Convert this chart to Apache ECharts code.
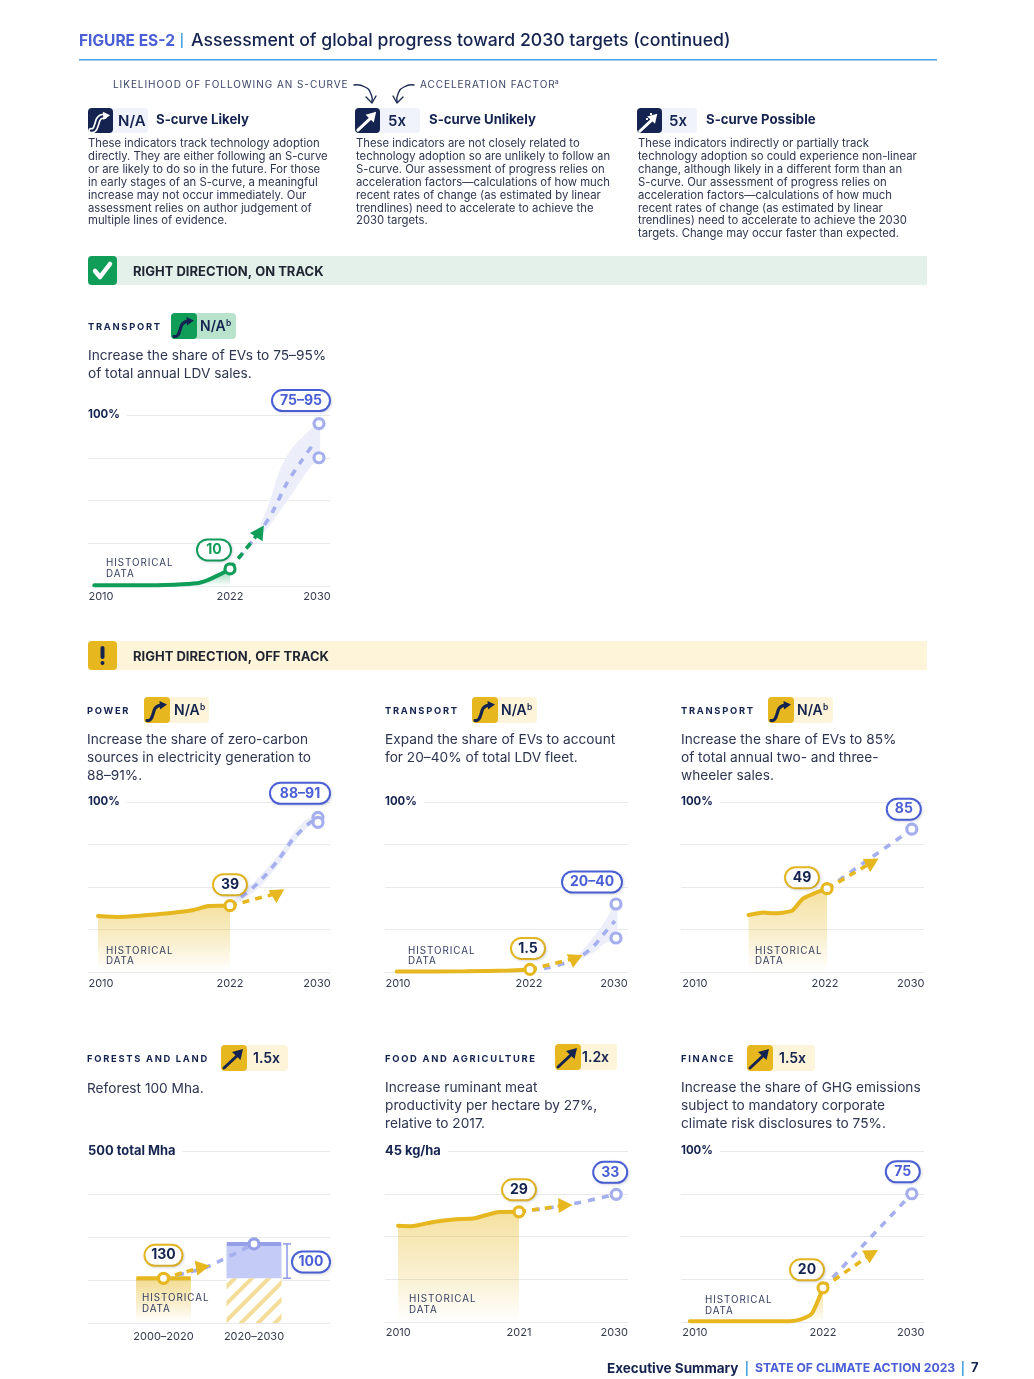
<!DOCTYPE html>
<html><head><meta charset="utf-8"><style>html,body{margin:0;padding:0;background:#fff}#c{width:1034px;height:1379px}</style>
<script src="https://cdn.jsdelivr.net/npm/echarts@6/dist/echarts.min.js"></script></head>
<body><div id="c"></div>
<script>
// ---------- data ----------
const evSalesHist=[[2009.8,0.4],[2014,0.4],[2017,0.8],[2019,1.6],[2020,3.5],[2021,6.5],[2022,10]];
const evSalesAction=[[2022,10],[2024.7,32]];
const evSalesTarget=[[2022,10],[2024.7,32],[2025.8,43],[2027.1,60],[2028.4,73],[2029.6,84]];
const evSalesLow=[[2024.7,30],[2025.5,35],[2026.5,44],[2027.5,53],[2028.5,63],[2029.3,70],[2030,75]];
const evSalesHigh=[[2024.7,35],[2025.5,48],[2026.5,68],[2027.5,80],[2028.5,87],[2029.3,92],[2030,95]];

const powerHist=[[2010,33],[2012,32.4],[2014.5,33.5],[2017,35],[2018.7,36.5],[2020,38.8],[2021,39],[2022,39]];
const powerAction=[[2022,39],[2026.4,46.5]];
const powerTarget=[[2022,39],[2024.5,52],[2026.4,66],[2027.7,78],[2029.3,88],[2030,89.5]];
const powerLow=[[2022.5,40],[2024.5,49],[2026.4,63],[2027.7,75],[2029,85],[2030,88]];
const powerHigh=[[2022.5,43],[2024.5,55],[2026.4,69],[2027.7,81],[2029,90],[2030,91]];

const evFleetHist=[[2009.6,0.3],[2016,0.4],[2020,0.9],[2022,1.5]];
const evFleetAction=[[2022,1.5],[2026.3,8.2]];
const evFleetTarget=[[2022,1.5],[2023.7,2.5],[2026.4,8],[2027.9,15],[2028.8,22],[2029.9,30]];
const evFleetLow=[[2026.4,7],[2027.2,9],[2028.2,13],[2029,17],[2030,20]];
const evFleetHigh=[[2026.4,9],[2027.2,15],[2028.2,23],[2029,30],[2030,40]];

const twoWheelHist=[[2014.6,33.5],[2016,35],[2016.9,34.5],[2018.7,36],[2019.7,43],[2020.9,46.5],[2022,49]];
const twoWheelAction=[[2022,49],[2026.3,64.7]];
const twoWheelTarget=[[2022,49],[2030,84]];

const meatHist=[[2009.8,25.3],[2011,25.2],[2013.2,26.4],[2014.9,27],[2016.9,27.3],[2019,28.9],[2021,29]];
const meatAction=[[2021,29],[2025.3,30.7]];
const meatTarget=[[2021,29],[2025.3,30.7],[2030,33.6]];

const climateRiskHist=[[2010,0.5],[2019,0.5],[2020,1.5],[2021,5],[2022,20]];
const climateRiskAction=[[2022,20],[2026.4,40]];
const climateRiskTarget=[[2022,20],[2030,75]];

const forestPeriods=['2000–2020','2020–2030'];
const forestHistorical=[130,130];
const forestAdded=[null,100];
const forestAction=[[0,130],[0.436,163]];

const ticksStd=[2010,2022,2030];
const ticksFood=[2010,2021,2030];

// ---------- palette / fonts ----------
const NAVY='#14234f',BODY='#2d3550',YEL='#e6b71e',GRN='#0f9d58',BLUE='#4a5fd6',PERI='#a5afee',BAND='#eceef9',GRID='#e8e9ec';
const F='Inter, "Noto Sans", sans-serif',W='Inter, "DejaVu Sans", sans-serif';
// tracked capitals: the W family stack gets letter-spacing when drawn
const _ft=CanvasRenderingContext2D.prototype.fillText;
CanvasRenderingContext2D.prototype.fillText=function(t,x,y,m){
  const f=this.font;
  this.letterSpacing=/DejaVu/.test(f)?(/bold|700/.test(f)?'1.7px':'.95px'):'0px';
  return m===undefined?_ft.call(this,t,x,y):_ft.call(this,t,x,y,m);
};

// ---------- chart layouts ----------
const charts=[
 {g:[88,330,415,586],ref:2022,px:230,k:11.125,m:5,max:100,top:'100%',ticks:ticksStd,pad:[9,4,0],c:GRN,hist:evSalesHist,act:evSalesAction,tgt:evSalesTarget,low:evSalesLow,high:evSalesHigh,rot:-33,
  now:[2022,10],nowT:'10',nowO:[-16,-20],ends:[[2030,95],[2030,75]],endT:'75–95',endO:[-18,-24],endW:60},
 {g:[88,330,802,972],ref:2022,px:230,k:11,m:6,max:100,top:'100%',ticks:ticksStd,pad:[6,2,0],c:YEL,hist:powerHist,act:powerAction,tgt:powerTarget,low:powerLow,high:powerHigh,rot:-58,
  now:[2022,39],nowT:'39',nowO:[0,-22],ends:[[2030,91],[2030,88]],endT:'88–91',endO:[-18,-25],endW:62},
 {g:[385,628,802,972],ref:2022,px:530,k:10.75,m:6,max:100,top:'100%',ticks:ticksStd,pad:[-6,4,2],c:YEL,hist:evFleetHist,act:evFleetAction,tgt:evFleetTarget,low:evFleetLow,high:evFleetHigh,rot:-65,
  now:[2022,1.5],nowT:'1.5',nowO:[-2,-22],ends:[[2030,40],[2030,20]],endT:'20–40',endO:[-24,-23],endW:62},
 {g:[681,924,802,972],ref:2022,px:827,k:10.6,m:6,max:100,top:'100%',ticks:ticksStd,pad:[-10,2,4],c:YEL,hist:twoWheelHist,act:twoWheelAction,tgt:twoWheelTarget,rot:-60,
  now:[2022,49],nowT:'49',nowO:[-25,-12],ends:[[2030,84]],endT:'85',endO:[-8,-21],endW:36},
 {g:[385,628,1151,1322],ref:2021,px:519,k:10.8,m:5,max:45,top:'45 kg/ha',ticks:ticksFood,pad:[-4,4,0],c:YEL,hist:meatHist,act:meatAction,tgt:meatTarget,rot:-88,
  now:[2021,29],nowT:'29',nowO:[0,-23],ends:[[2030,33.6]],endT:'33',endO:[-6,-23],endW:36},
 {g:[681,924,1151,1322],ref:2022,px:823,k:11.1,m:5,max:100,top:'100%',ticks:ticksStd,pad:[10,2,0],c:YEL,hist:climateRiskHist,act:climateRiskAction,tgt:climateRiskTarget,rot:-60,
  now:[2022,20],nowT:'20',nowO:[-16,-19],ends:[[2030,75]],endT:'75',endO:[-9,-23],endW:36},
];

const grids=[],xAxes=[],yAxes=[],series=[];
function pill(text,off,w,border,fill){return {show:true,position:'inside',offset:[off[0],off[1]+1],formatter:text,width:w,height:19,lineHeight:19,align:'center',verticalAlign:'middle',
  fontFamily:F,fontSize:14,fontWeight:700,color:fill,backgroundColor:'#fff',borderColor:border,borderWidth:2,borderRadius:11,shadowColor:'rgba(60,70,120,.18)',shadowBlur:3,shadowOffsetX:1,shadowOffsetY:1};}
function addAxes(L,R,T,B,xmin,xmax,ymax,top,xLabel){
  const i=grids.length;
  grids.push({left:L,top:T,width:R-L,height:B-T,show:false});
  xAxes.push({gridIndex:i,type:'value',min:xmin,max:xmax,axisLine:{show:false},axisTick:{show:false},splitLine:{show:false},axisLabel:xLabel});
  yAxes.push({gridIndex:i,type:'value',min:0,max:ymax,interval:ymax/4,axisLine:{show:false},axisTick:{show:false},
    splitLine:{show:true,lineStyle:{color:GRID,width:1}},
    axisLabel:{inside:true,margin:0,customValues:[ymax],formatter:()=>top,fontFamily:F,fontSize:top==='100%'?11.4:12.9,fontWeight:700,color:NAVY,backgroundColor:'#fff',padding:[2,7,2,0],verticalAlign:'middle'}});
  return i;
}
const tickStyle={fontFamily:F,fontSize:11,color:'#333a4d'};
charts.forEach(c=>{
  const [L,R,T,B]=c.g,xmin=c.ref-(c.px-L)/c.k,xmax=c.ref+(R-c.px)/c.k;
  const side=v=>v>=0?[0,0,0,v]:[0,-v,0,0];
  const i=addAxes(L,R,T,B,xmin,xmax,c.max,c.top,Object.assign({customValues:c.ticks,margin:c.m,
    formatter:v=>v===c.ticks[0]?'{a|'+v+'}':v===c.ticks[2]?'{b|'+v+'}':'{m|'+v+'}',
    rich:{a:Object.assign({padding:side(c.pad[0])},tickStyle),b:Object.assign({padding:[0,c.pad[1],0,0]},tickStyle),m:Object.assign({padding:[0,c.pad[2],0,0]},tickStyle)}},tickStyle));
  const ax={xAxisIndex:i,yAxisIndex:i,silent:true,animation:false};
  if(c.low){
    const low=c.low,high=c.high;
    series.push(Object.assign({type:'custom',data:low,clip:false,z:2,encode:{x:0,y:1},
      renderItem:(p,api)=>{
        if(p.dataIndex!==0)return null;
        const pts=low.concat(high.slice().reverse()).map(d=>api.coord(d));
        return {type:'polygon',shape:{points:pts,smooth:.3},style:{fill:BAND}};
      }},ax));
  }
  series.push(Object.assign({type:'line',data:c.tgt,symbol:'none',smooth:c.tgt.length>2?.25:false,lineStyle:{color:PERI,width:3.6,type:[7,7]},clip:false,z:3},ax));
  const base=c.c===GRN?'15,157,88':'230,183,30';
  series.push(Object.assign({type:'line',data:c.hist,symbol:'none',smooth:.2,lineStyle:{color:c.c,width:4,cap:'round'},clip:false,z:4,
    areaStyle:{opacity:1,origin:'start',color:{type:'linear',x:0,y:0,x2:0,y2:1,colorStops:[{offset:0,color:'rgba('+base+',.42)'},{offset:.55,color:'rgba('+base+',.22)'},{offset:1,color:'rgba('+base+',0)'}]}}},ax));
  series.push(Object.assign({type:'line',data:c.act,symbol:'none',lineStyle:{color:c.c,width:3.6,type:[7,6]},clip:false,z:5},ax));
  series.push(Object.assign({type:'scatter',data:[c.act[c.act.length-1]],symbol:'triangle',symbolSize:[15,14],symbolRotate:c.rot,itemStyle:{color:c.c,opacity:1},clip:false,z:6},ax));
  const ring=(col)=>({color:'#fff',borderColor:col,borderWidth:3.2,opacity:1});
  const nowFill=c.c===GRN?GRN:NAVY;
  const pts=[{value:c.now,itemStyle:ring(c.c),label:pill(c.nowT,c.nowO,32,c.c,nowFill)}];
  c.ends.forEach((e,j)=>pts.push(Object.assign({value:e,itemStyle:ring(PERI)},j===0?{label:pill(c.endT,c.endO,c.endW-4,BLUE,BLUE)}:{})));
  series.push(Object.assign({type:'scatter',data:pts,symbol:'circle',symbolSize:10,clip:false,z:7},ax));
});

// forest chart: gridlines and overlays on a value grid, bars on a category grid of the same height
(function(){
  const L=88,R=330,T=1151,B=1323,k=90.5,x0=163.5,xmin=-(x0-L)/k,xmax=(R-x0)/k;
  const i=addAxes(L,R,T,B,xmin,xmax,500,'500 total Mha',{show:false});
  const j=grids.length;
  grids.push({left:x0-k/2,top:T,width:2*k,height:B-T,show:false});
  xAxes.push({gridIndex:j,type:'category',data:forestPeriods,axisLine:{show:false},axisTick:{show:false},axisLabel:Object.assign({margin:8},tickStyle)});
  yAxes.push({gridIndex:j,type:'value',min:0,max:500,show:false});
  const bx={xAxisIndex:j,yAxisIndex:j,silent:true,animation:false,barWidth:55,stack:'f'};
  const ax={xAxisIndex:i,yAxisIndex:i,silent:true,animation:false,clip:false};
  const yFade={type:'linear',x:0,y:0,x2:0,y2:1,colorStops:[{offset:0,color:'rgba(230,183,30,.5)'},{offset:1,color:'rgba(230,183,30,0)'}]};
  const hatch={symbol:'rect',symbolSize:1,dashArrayX:[1,0],dashArrayY:[4,8],rotation:-Math.PI/4,color:'#f3dd98',backgroundColor:'#fff'};
  series.push(Object.assign({type:'bar',data:[{value:forestHistorical[0],itemStyle:{color:yFade}},{value:forestHistorical[1],itemStyle:{color:'#fff',decal:hatch}}]},bx));
  series.push(Object.assign({type:'bar',data:forestAdded,itemStyle:{color:'#c3cbf6'}},bx));
  series.push(Object.assign({type:'line',data:[[-0.3,130],[0.3,130]],symbol:'none',lineStyle:{color:YEL,width:4},z:4},ax));
  series.push(Object.assign({type:'line',data:[[0.7,230],[1.3,230]],symbol:'none',lineStyle:{color:'#949fe8',width:4},z:4},ax));
  series.push(Object.assign({type:'line',data:[[0,130],[0.46,161],[1,230]],symbol:'none',smooth:.2,lineStyle:{color:PERI,width:3.6,type:[7,7]},z:5},ax));
  series.push(Object.assign({type:'line',data:forestAction,symbol:'none',lineStyle:{color:YEL,width:3.6,type:[7,5]},z:6},ax));
  series.push(Object.assign({type:'scatter',data:[forestAction[1]],symbol:'triangle',symbolSize:[15,14],symbolRotate:-80,itemStyle:{color:YEL,opacity:1},z:6},ax));
  series.push(Object.assign({type:'line',data:[[1.365,130],[1.365,230]],symbol:'rect',symbolSize:[8,1.5],showAllSymbol:true,itemStyle:{color:'#8c98e6'},lineStyle:{color:'#8c98e6',width:1.5},z:5},ax));
  series.push(Object.assign({type:'scatter',symbol:'circle',symbolSize:10,z:7,data:[
    {value:[0,130],itemStyle:{color:'#fff',borderColor:YEL,borderWidth:3.2,opacity:1},label:pill('130',[0,-24],36,YEL,NAVY)},
    {value:[1,230],itemStyle:{color:'#fff',borderColor:'#949fe8',borderWidth:3.2,opacity:1},label:pill('100',[57,17],36,BLUE,BLUE)}]},ax));
})();

// ---------- page furniture ----------
const gfx=[];
function T(text,x,y,size,weight,fill,fam,align){gfx.push({type:'text',silent:true,z:20,style:{text,x,y:y+1,fill:fill||BODY,font:(weight||400)+' '+size+'px '+(fam||F),textAlign:align||'left',textVerticalAlign:'middle'}});}
function P(lines,x,y,dy,size,weight,fill,fam){lines.forEach((l,i)=>T(l,x,y+i*dy,size,weight,fill,fam));}
function R(x,y,w,h,fill,r){gfx.push({type:'rect',silent:true,z:10,shape:{x,y,width:w,height:h,r:r||0},style:{fill}});}
function Pl(pts,stroke,lw,smooth,z){gfx.push({type:'polyline',silent:true,z:z||12,shape:{points:pts,smooth:smooth||0},style:{stroke,lineWidth:lw,fill:null,lineCap:'round',lineJoin:'round'}});}
function Pg(pts,fill,z){gfx.push({type:'polygon',silent:true,z:z||12,shape:{points:pts},style:{fill}});}
function off(x,y,a){return a.map(p=>[x+p[0],y+p[1]]);}
function sCurve(x,y,s,line,outline){
  const sc=a=>off(x,y,a.map(p=>[p[0]*s/26,p[1]*s/26]));
  const pts=sc([[3,23.5],[6.5,22.5],[9,17],[11,11.5],[14,9],[17,8.5]]);
  if(outline)Pl(pts,outline,5.5,.5);
  Pl(pts,line,outline?2.2:3.2,.5);
  Pg(sc([[15.5,4],[23,7.5],[16,12.5]]),outline||line);
}
function arrow(x,y,s,line){
  const sc=a=>off(x,y,a.map(p=>[p[0]*s/26,p[1]*s/26]));
  Pl(sc([[3,23],[18,9]]),line,3);
  Pg(sc([[22,4],[19.5,15],[11,7]]),line);
}
// title
T('FIGURE ES-2',79,40,15.5,700,BLUE);
R(181,33,1.6,15,'#4aa3e0');
T('Assessment of global progress toward 2030 targets (continued)',191,40,17.65,500,NAVY);
R(79,59,858,1.5,'#4aa3e0');
// legend
T('LIKELIHOOD OF FOLLOWING AN S-CURVE',113,84,10,400,'#3a4466',W);
T('ACCELERATION FACTOR',420,84,10,400,'#3a4466',W);
T('a',555,81.5,6.5,400,'#3a4466');
Pl([[354,85],[365,87],[371,94],[372,102]],'#1c2b56',1.4,.6);
Pl([[366,97],[372,103],[376,96]],'#1c2b56',1.4);
Pl([[414,85],[404,87],[398,94],[397,102]],'#1c2b56',1.4,.6);
Pl([[393,96],[397,103],[403,97]],'#1c2b56',1.4);
R(88,108,60,25,'#f1f3fc',4);R(88,108,25,25,NAVY,4);
sCurve(88,108,25,NAVY,'#fff');
T('N/A',118,120,15,600,NAVY);T('S-curve Likely',156,119,13.2,700,NAVY);
R(355,108,65,25,'#f1f3fc',4);R(355,108,25,25,NAVY,4);arrow(355,108,25,'#fff');
T('5x',388,120,15,600,NAVY);T('S-curve Unlikely',429,119,13.2,700,NAVY);
R(637,108,60,25,'#f1f3fc',4);R(637,108,25,25,NAVY,4);arrow(637,110,24,'#fff');
[[650,113],[654,116],[646,118],[650,120]].forEach(p=>R(p[0],p[1],2,2,'#fff'));
T('5x',669,120,15,600,NAVY);T('S-curve Possible',706,119,13.2,700,NAVY);
const para1=['These indicators track technology adoption','directly. They are either following an S-curve','or are likely to do so in the future. For those','in early stages of an S-curve, a meaningful','increase may not occur immediately. Our','assessment relies on author judgement of','multiple lines of evidence.'];
const para2=['These indicators are not closely related to','technology adoption so are unlikely to follow an','S-curve. Our assessment of progress relies on','acceleration factors—calculations of how much','recent rates of change (as estimated by linear','trendlines) need to accelerate to achieve the','2030 targets.'];
const para3=['These indicators indirectly or partially track','technology adoption so could experience non-linear','change, although likely in a different form than an','S-curve. Our assessment of progress relies on','acceleration factors—calculations of how much','recent rates of change (as estimated by linear','trendlines) need to accelerate to achieve the 2030','targets. Change may occur faster than expected.'];
P(para1,88,143,12.83,11.3);P(para2,356,143,12.83,11.3);P(para3,638,143,12.83,11.3);
// section bands
R(88,256,839,29,'#e4f1ea');R(88,256,29,29,GRN,4);
Pl([[95,271],[100,277],[110,264]],'#fff',4.5);
T('RIGHT DIRECTION, ON TRACK',133,271,13,700,'#1f2430');
R(88,641,839,29,'#fdf4d9');R(88,641,29,29,YEL,4);
R(100.5,646,4,13,NAVY,2);R(100.5,661,4,4,NAVY,2);
T('RIGHT DIRECTION, OFF TRACK',133,656,13,700,'#1f2430');
// chart headers
function badge(label,lx,ly,ix,iy,pEnd,kind,col,bg,txt,tx,sup,lineCol){
  T(label,lx,ly,9.4,700,NAVY,W);
  R(ix,iy,pEnd-ix,26,bg,4);R(ix,iy,26,26,col,4);
  if(kind==='s')sCurve(ix,iy,26,lineCol);else arrow(ix,iy,26,lineCol);
  T(txt,tx,iy+12.5,14,600,NAVY);
  if(sup)T('b',tx+26,iy+9,8.5,600,NAVY);
}
badge('TRANSPORT',88,326.5,171,313,236,'s',GRN,'#b9e3cc','N/A',200,1,NAVY);
badge('POWER',87,710.5,144,697,209,'s',YEL,'#fdf4d9','N/A',174,1,NAVY);
badge('TRANSPORT',385,710.5,472,697,537,'s',YEL,'#fdf4d9','N/A',501,1,NAVY);
badge('TRANSPORT',681,710.5,768,697,833,'s',YEL,'#fdf4d9','N/A',797,1,NAVY);
badge('FORESTS AND LAND',87,1058.5,221,1045,288,'a',YEL,'#fdf4d9','1.5x',253,0,NAVY);
badge('FOOD AND AGRICULTURE',385,1058.5,555,1044,617,'a',YEL,'#fdf4d9','1.2x',582,0,NAVY);
badge('FINANCE',681,1058.5,747,1045,815,'a',YEL,'#fdf4d9','1.5x',779,0,NAVY);
// descriptions
P(['Increase the share of EVs to 75–95%','of total annual LDV sales.'],88,354.5,18,13.7);
P(['Increase the share of zero-carbon','sources in electricity generation to','88–91%.'],87,739,18,13.7);
P(['Expand the share of EVs to account','for 20–40% of total LDV fleet.'],385,739,18,13.7);
P(['Increase the share of EVs to 85%','of total annual two- and three-','wheeler sales.'],681,739,18,13.7);
P(['Reforest 100 Mha.'],87,1087.5,18,13.7);
P(['Increase ruminant meat','productivity per hectare by 27%,','relative to 2017.'],385,1087,18,13.7);
P(['Increase the share of GHG emissions','subject to mandatory corporate','climate risk disclosures to 75%.'],681,1087,18,13.7);
// historical-data captions
[[106,562.5],[106,950],[408,950],[755,950],[142,1297.5],[409,1298.5],[705,1299.5]].forEach(p=>P(['HISTORICAL','DATA'],p[0],p[1],10.5,9.8,400,'#333d60',W));
// footer
T('Executive Summary',607,1367.5,13.5,700,NAVY);
R(746,1361,1.6,15,'#4aa3e0');
T('STATE OF CLIMATE ACTION 2023',755,1367.5,12.2,700,BLUE);
R(962,1361,1.6,15,'#4aa3e0');
T('7',971,1367.5,13,700,NAVY);

const chart=echarts.init(document.getElementById('c'),null,{renderer:'canvas',width:1034,height:1379});
chart.setOption({animation:false,backgroundColor:'#fff',grid:grids,xAxis:xAxes,yAxis:yAxes,series,graphic:gfx});
</script></body></html>
